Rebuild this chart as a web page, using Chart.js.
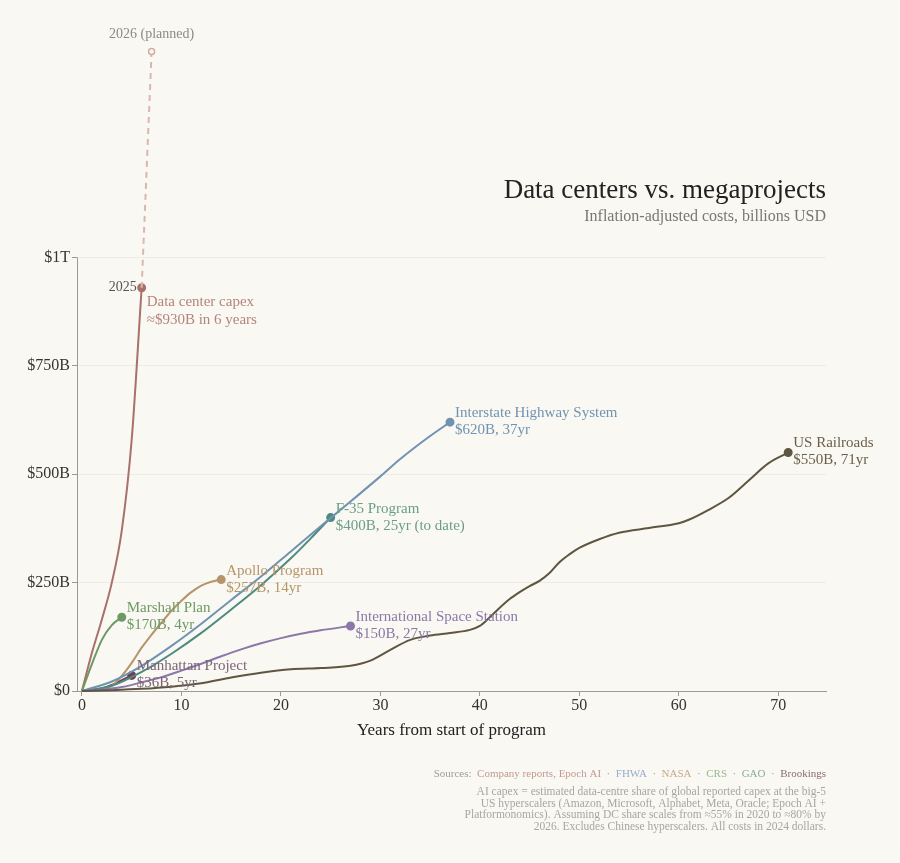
<!DOCTYPE html>
<html>
<head>
<meta charset="utf-8">
<script src="https://cdn.jsdelivr.net/npm/chart.js@4.4.0/dist/chart.umd.min.js"></script>
<style>
  body { margin: 0; background: #faf8f3; }
  canvas { display: block; }
</style>
</head>
<body>
<canvas id="chart" width="900" height="863"></canvas>
<script>
// series data (years from start, cumulative cost in billions USD)
const dcYears = [0, 1, 2, 3, 4, 5, 6];
const dcValues = [0, 88, 165, 250, 370, 580, 930];
const dcPlanYears = [6, 7];
const dcPlanValues = [930, 1475];

const marshallYears = [0, 1, 2, 3, 4];
const marshallValues = [0, 62, 118, 152, 170];

const apolloYears = [0, 1, 2, 3, 4, 5, 6, 7, 8, 9, 10, 11, 12, 13, 14];
const apolloValues = [0, 1, 3, 12, 35, 65, 100, 130, 158, 185, 208, 228, 243, 252, 257];

const manhattanYears = [0, 1, 2, 3, 4, 5];
const manhattanValues = [0, 2, 6, 14, 25, 36];

const interstateYears = [0, 3, 6, 9, 12, 15, 18, 21, 24, 27, 30, 32, 35, 37];
const interstateValues = [0, 22, 58, 104, 155, 210, 264, 322, 380, 437, 495, 535, 588, 620];

const f35Years = [0, 3, 6, 9, 12, 15, 18, 21, 23, 25];
const f35Values = [0, 12, 44, 86, 134, 188, 244, 306, 352, 400];

const issYears = [0, 2, 4, 6, 8, 10, 12, 14, 16, 18, 20, 22, 24, 27];
const issValues = [0, 3, 9, 20, 32, 47, 63, 80, 96, 110, 122, 132, 140, 150];

const railYears = [0, 3, 6, 9, 12, 15, 18, 21, 24, 27, 29, 31, 33, 35, 37, 39, 40, 41, 42, 43, 44, 45, 46, 47, 48, 49, 50, 52, 54, 57, 60, 61, 63, 65, 67, 69, 71];
const railValues = [0, 2, 5, 10, 18, 31, 42, 50, 53, 58, 70, 95, 118, 128, 134, 141, 150, 170, 192, 212, 228, 242, 254, 272, 297, 315, 330, 350, 365, 376, 387, 395, 418, 445, 485, 525, 550];

const xTickValues = [0, 10, 20, 30, 40, 50, 60, 70];
const yTickValues = [0, 250, 500, 750, 1000];
const yTickLabels = ["$0", "$250B", "$500B", "$750B", "$1T"];

const FONT = "'Liberation Serif', serif";
const BG = "#faf8f3";

const pts = (xs, ys) => xs.map((x, i) => ({ x: x, y: ys[i] }));

// name, note, line colour, text colour
const series = [
  { name: "US Railroads", note: "$550B, 71yr", data: pts(railYears, railValues), color: "#5f5641", text: "#6b604c" },
  { name: "International Space Station", note: "$150B, 27yr", data: pts(issYears, issValues), color: "#8b78a8", text: "#8b78a8" },
  { name: "Interstate Highway System", note: "$620B, 37yr", data: pts(interstateYears, interstateValues), color: "#6f93b0", text: "#6f93b0" },
  { name: "F-35 Program", note: "$400B, 25yr (to date)", data: pts(f35Years, f35Values), color: "#4e8a80", text: "#6a9e86" },
  { name: "Apollo Program", note: "$257B, 14yr", data: pts(apolloYears, apolloValues), color: "#b5956a", text: "#b5956a" },
  { name: "Marshall Plan", note: "$170B, 4yr", data: pts(marshallYears, marshallValues), color: "#6d9a64", text: "#6d9a64" },
  { name: "Manhattan Project", note: "$36B, 5yr", data: pts(manhattanYears, manhattanValues), color: "#6e3e56", text: "#7b6478" },
  { name: "Data center capex", note: "≈$930B in 6 years", data: pts(dcYears, dcValues), color: "#a8716b", text: "#b4857c", below: true }
];

const datasets = series.map(s => ({
  label: s.name,
  data: s.data,
  borderColor: s.color,
  backgroundColor: s.color,
  borderWidth: 2,
  cubicInterpolationMode: "monotone",
  pointRadius: ctx => (ctx.dataIndex === s.data.length - 1 ? 3.5 : 0),
  pointHoverRadius: 0,
  clip: false
}));

datasets.unshift({
  label: "2026 (planned)",
  data: pts(dcPlanYears, dcPlanValues),
  borderColor: "#d9b6ae",
  backgroundColor: BG,
  borderWidth: 2,
  borderDash: [6, 5],
  pointRadius: ctx => (ctx.dataIndex === 1 ? 3 : 0),
  pointBorderWidth: 1.5,
  pointBorderColor: "#d2aca4",
  pointBackgroundColor: BG,
  clip: false
});

const decorPlugin = {
  id: "decor",
  beforeDraw(chart) {
    const c = chart.ctx;
    c.save();
    c.fillStyle = BG;
    c.fillRect(0, 0, chart.width, chart.height);
    c.restore();
  },
  afterDraw(chart) {
    const c = chart.ctx;
    const xs = chart.scales.x, ys = chart.scales.y;
    c.save();

    // y axis line, only up to $1T
    c.strokeStyle = "#9a9a9a";
    c.lineWidth = 1;
    c.beginPath();
    c.moveTo(xs.left + 0.5, ys.getPixelForValue(1000));
    c.lineTo(xs.left + 0.5, ys.getPixelForValue(0));
    c.stroke();

    // series labels
    c.font = "15px " + FONT;
    c.textBaseline = "middle";
    c.textAlign = "left";
    series.forEach(s => {
      const last = s.data[s.data.length - 1];
      const px = xs.getPixelForValue(last.x) + 5;
      const py = ys.getPixelForValue(last.y);
      c.fillStyle = s.text;
      if (s.below) {
        c.fillText(s.name, px, py + 14);
        c.fillText(s.note, px, py + 32);
      } else {
        c.fillText(s.name, px, py - 9);
        c.fillText(s.note, px, py + 8);
      }
    });

    // year markers on data center line
    c.font = "14px " + FONT;
    c.fillStyle = "#555";
    c.textAlign = "right";
    c.fillText("2025", xs.getPixelForValue(dcYears[dcYears.length - 1]) - 5, ys.getPixelForValue(dcValues[dcValues.length - 1]));
    c.textAlign = "center";
    c.fillStyle = "#8a8a8a";
    c.fillText("2026 (planned)", xs.getPixelForValue(dcPlanYears[1]), ys.getPixelForValue(dcPlanValues[1]) - 17);

    // title
    c.textAlign = "right";
    c.fillStyle = "#222";
    c.font = "27px " + FONT;
    c.fillText("Data centers vs. megaprojects", xs.right, 191);
    c.fillStyle = "#777";
    c.font = "16px " + FONT;
    c.fillText("Inflation-adjusted costs, billions USD", xs.right, 217);

    // x axis title
    c.textAlign = "center";
    c.fillStyle = "#222";
    c.font = "17px " + FONT;
    c.fillText("Years from start of program", (xs.left + xs.right) / 2, 731);

    // sources line, drawn right to left
    c.font = "11px " + FONT;
    c.textAlign = "left";
    const parts = [
      ["Sources:  ", "#9c9c9c"], ["Company reports, Epoch AI", "#c39a92"], ["  ·  ", "#9c9c9c"],
      ["FHWA", "#95add0"], ["  ·  ", "#9c9c9c"], ["NASA", "#c6aa88"], ["  ·  ", "#9c9c9c"],
      ["CRS", "#98b894"], ["  ·  ", "#9c9c9c"], ["GAO", "#85aaa0"], ["  ·  ", "#9c9c9c"],
      ["Brookings", "#8a6a78"]
    ];
    let total = parts.reduce((w, p) => w + c.measureText(p[0]).width, 0);
    let sx = xs.right - total;
    parts.forEach(p => {
      c.fillStyle = p[1];
      c.fillText(p[0], sx, 774);
      sx += c.measureText(p[0]).width;
    });

    const notes = [
      "AI capex = estimated data-centre share of global reported capex at the big-5",
      "US hyperscalers (Amazon, Microsoft, Alphabet, Meta, Oracle; Epoch AI +",
      "Platformonomics). Assuming DC share scales from ≈55% in 2020 to ≈80% by",
      "2026. Excludes Chinese hyperscalers. All costs in 2024 dollars."
    ];
    c.textAlign = "right";
    c.fillStyle = "#a6a6a6";
    c.font = "11.5px " + FONT;
    notes.forEach((t, i) => c.fillText(t, xs.right, 792 + i * 11.5));
    c.restore();
  }
};

new Chart(document.getElementById("chart"), {
  type: "line",
  data: { datasets: datasets },
  options: {
    responsive: false,
    animation: false,
    devicePixelRatio: 1,
    layout: { padding: { top: 0, right: 74, left: 0, bottom: 0 } },
    plugins: { legend: { display: false }, tooltip: { enabled: false } },
    scales: {
      x: {
        type: "linear",
        min: -0.5,
        max: 74.8,
        afterFit: s => { s.height = 172; },
        afterBuildTicks: s => { s.ticks = xTickValues.map(v => ({ value: v })); },
        grid: { drawOnChartArea: false, drawTicks: true, tickLength: 5, tickColor: "#9a9a9a" },
        border: { color: "#9a9a9a" },
        ticks: { padding: 0, color: "#333", font: { family: FONT, size: 16 } }
      },
      y: {
        type: "linear",
        min: 0,
        max: 1567,
        afterFit: s => { s.width = 77; },
        afterBuildTicks: s => { s.ticks = yTickValues.map(v => ({ value: v })); },
        grid: {
          drawTicks: true,
          tickLength: 5,
          tickColor: "#9a9a9a",
          color: ctx => (ctx.tick && ctx.tick.value === 0 ? "rgba(0,0,0,0)" : "#efebe3")
        },
        border: { display: false },
        ticks: {
          padding: 2,
          color: "#333",
          font: { family: FONT, size: 16 },
          callback: v => yTickLabels[yTickValues.indexOf(v)]
        }
      }
    }
  },
  plugins: [decorPlugin]
});
</script>
</body>
</html>
